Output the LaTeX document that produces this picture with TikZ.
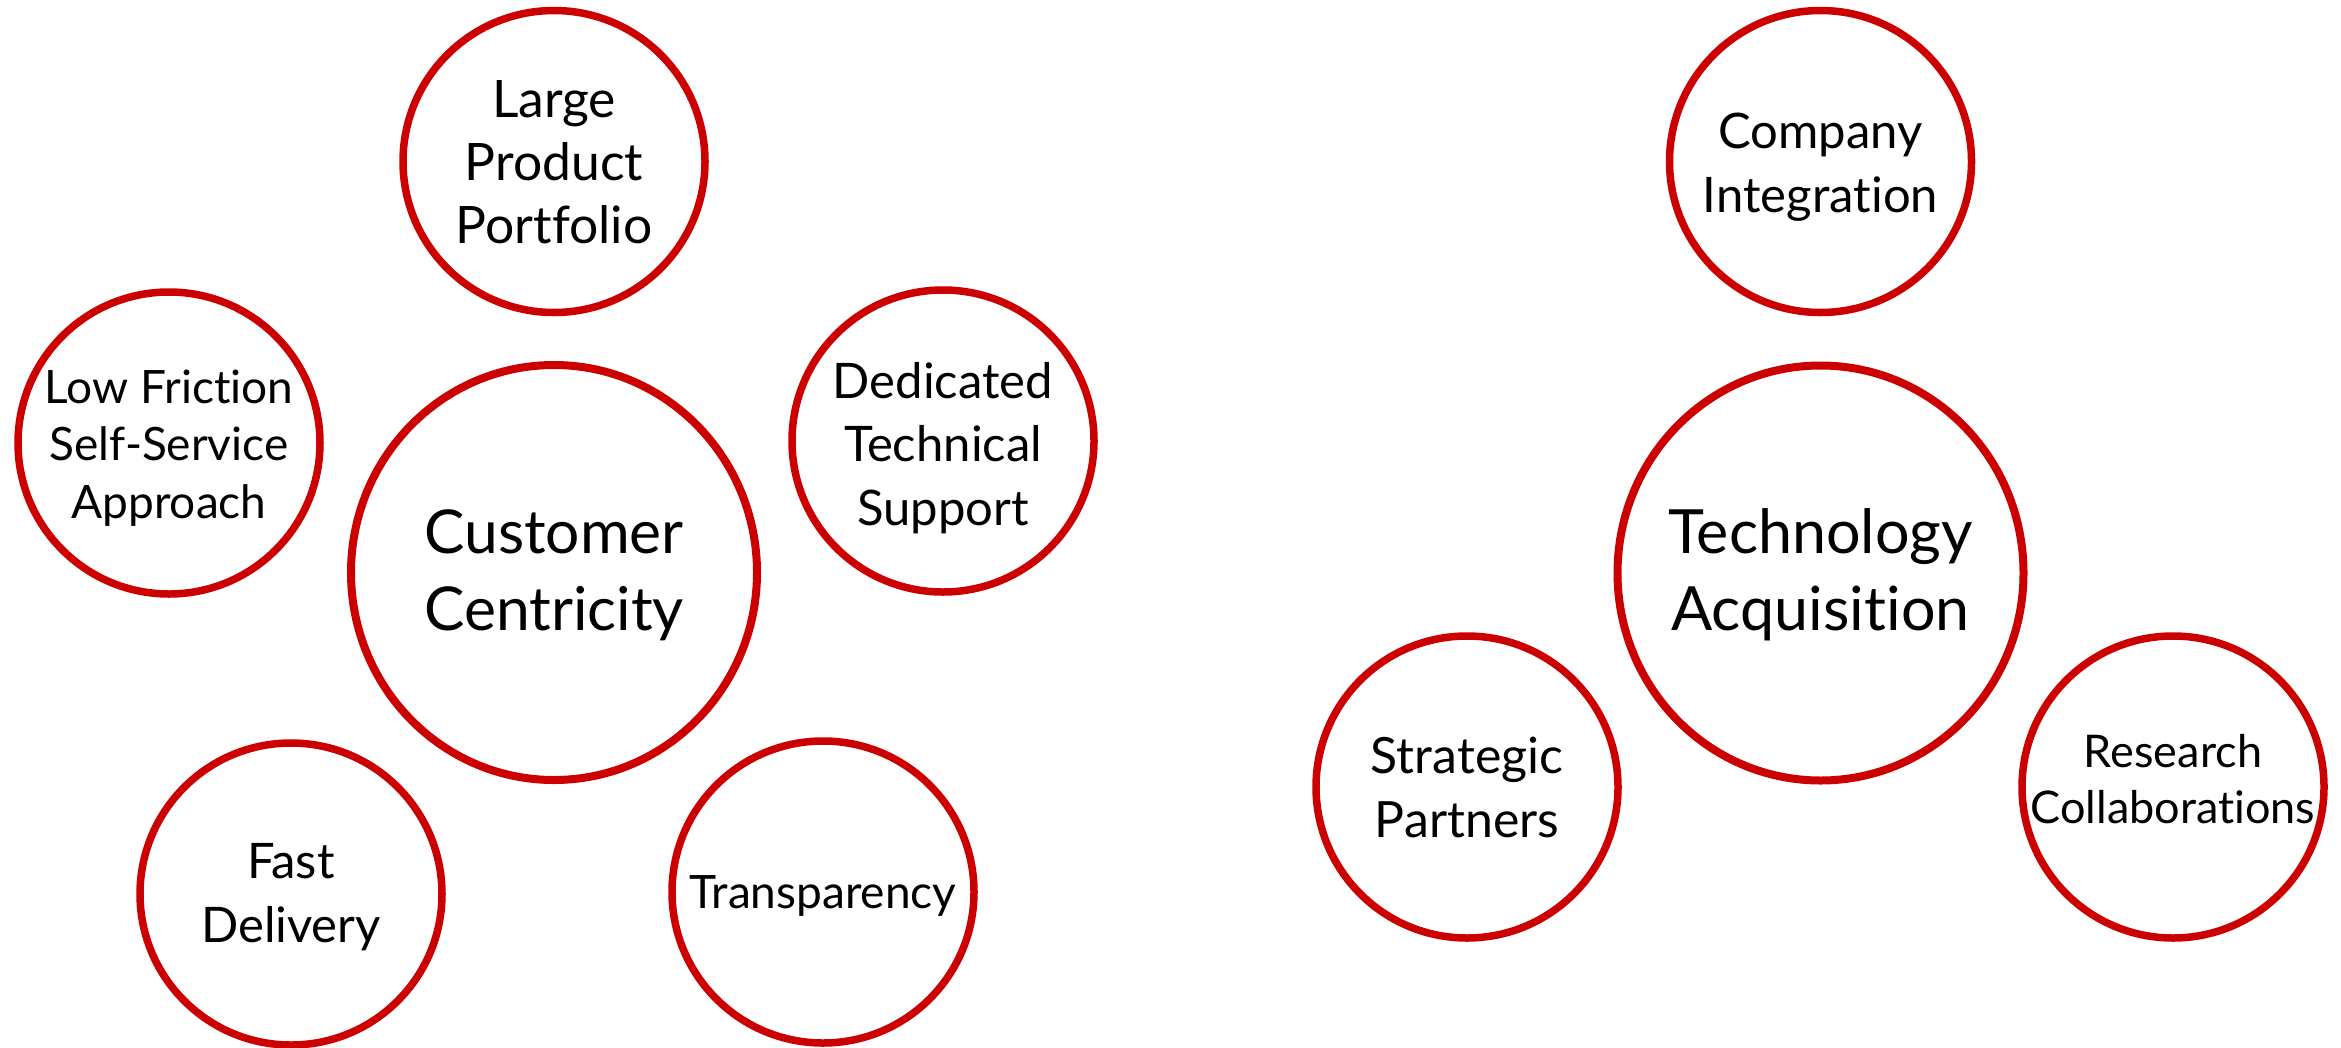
\documentclass[tikz,border=0pt]{standalone}
\usepackage{fontspec}
\setmainfont{Lato}[RawFeature={-liga;-dlig;-clig}]
\usetikzlibrary{shapes.geometric}
\definecolor{ringred}{RGB}{204,0,0}
\tikzset{
  bub/.style={circle, draw=ringred, line width=7.5pt, minimum size=302pt, inner sep=0pt},
  bigbub/.style={ellipse, draw=ringred, line width=8pt, minimum width=406pt, minimum height=415pt, inner sep=0pt},
  txt/.style={anchor=base, inner sep=0pt, text=black}
}
\newcommand{\lines}[1]{\begin{tabular}[t]{@{}c@{}}#1\end{tabular}}
\begin{document}
\begin{tikzpicture}[x=1pt,y=-1pt]
\useasboundingbox (0,0) rectangle (2341,1047);
% left group
\node[bub] (lpp) at (554,161.5) {};
\node[bub] (lf) at (169,443) {};
\node[bigbub] (cc) at (554,572.5) {};
\node[bub] (dts) at (943,441) {};
\node[bub] (fd) at (291,894) {};
\node[bub] (tr) at (823,892) {};
% right group
\node[bub] (ci) at (1820.5,161.5) {};
\node[bigbub] (ta) at (1820.5,573) {};
\node[bub] (sp) at (1467,787) {};
\node[bub] (rc) at (2173,787) {};
% texts
\node[txt, font=\fontsize{51.6}{63}\selectfont] (lppt) at (554,117) {\lines{Large\\Product\\Portfolio}};
\node[txt, font=\fontsize{46}{57.5}\selectfont] (lft) at (169,403) {\lines{Low Friction\\Self-Service\\Approach}};
\node[txt, font=\fontsize{60.5}{77}\selectfont] (cct) at (554,553) {\lines{Customer\\Centricity}};
\node[txt, font=\fontsize{49}{63.5}\selectfont] (dtst) at (943,398) {\lines{Dedicated\\Technical\\Support}};
\node[txt, font=\fontsize{49}{64}\selectfont] (fdt) at (291,878) {\lines{Fast\\Delivery}};
\node[txt, font=\fontsize{46}{57}\selectfont] (trt) at (823,908) {\lines{Transparency}};
\node[txt, font=\fontsize{49}{64}\selectfont] (cit) at (1820.5,148) {\lines{Company\\Integration}};
\node[txt, font=\fontsize{61}{77}\selectfont] (tat) at (1820.5,553) {\lines{Technology\\Acquisition}};
\node[txt, font=\fontsize{50}{64}\selectfont] (spt) at (1467,773) {\lines{Strategic\\Partners}};
\node[txt, font=\fontsize{45}{56}\selectfont] (rct) at (2173,767) {\lines{Research\\Collaborations}};
\end{tikzpicture}
\end{document}
